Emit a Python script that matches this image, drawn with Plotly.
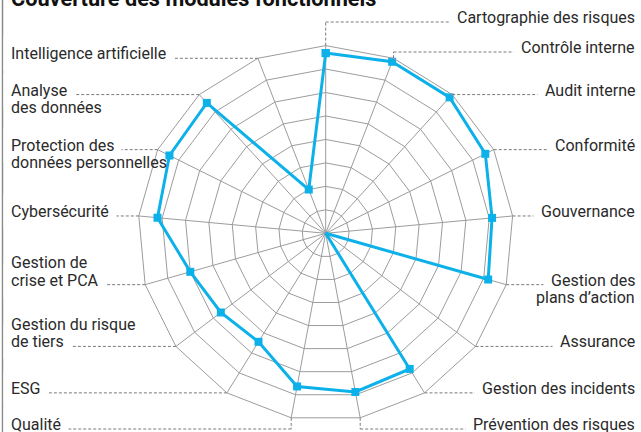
import math
import plotly.graph_objects as go

# ---------------- data ----------------
categories = [
    "Cartographie des risques", "Contrôle interne", "Audit interne", "Conformité",
    "Gouvernance", "Gestion des plans d’action", "Assurance", "Gestion des incidents",
    "Prévention des risques", "Qualité", "ESG", "Gestion du risque de tiers",
    "Gestion de crise et PCA", "Cybersécurité", "Protection des données personnelles",
    "Analyse des données", "Intelligence artificielle",
]
scores = [96, 98, 98, 95, 89, 90, 0, 85, 86, 83, 68, 70, 75, 90, 93, 94, 25]
label_lines = [
    ["Cartographie des risques"], ["Contrôle interne"], ["Audit interne"], ["Conformité"],
    ["Gouvernance"], ["Gestion des", "plans d’action"], ["Assurance"], ["Gestion des incidents"],
    ["Prévention des risques"], ["Qualité"], ["ESG"], ["Gestion du risque", "de tiers"],
    ["Gestion de", "crise et PCA"], ["Cybersécurité"], ["Protection des", "données personnelles"],
    ["Analyse", "des données"], ["Intelligence artificielle"],
]
title_text = "Couverture des modules fonctionnels"
r_max = 100
r_step = 12.5

# ---------------- layout parameters (pixels) ----------------
W, H = 641, 432
CX, CY, R = 325.7, 233.3, 187.7
anchor_line = [0, 0, 0, 0, 0, 0, 0, 0, 0, 0, 0, 1, 1, 0, 0, 0, 0]
leader_y = [22, 52, None, None, None, None, None, None, 429,
            429, None, None, None, None, None, None, None]
RIGHT_X, LEFT_X = 636, 10
FS = 16
LINE_H = 17.5
BASE_TO_MID = 5.5     # text middle sits this far above the baseline
BASE_BELOW_LEADER = 1
PAD = 7


def px(x):
    return x / W


def py(y):
    return 1 - y / H


n = len(categories)
theta_closed = categories + [categories[0]]
r_closed = scores + [scores[0]]

fig = go.Figure()
fig.add_trace(go.Scatterpolar(
    r=r_closed, theta=theta_closed, mode="lines+markers",
    line=dict(color="#0DB1EA", width=3),
    marker=dict(symbol="square", size=8, color="#0DB1EA"),
    hoverinfo="skip", showlegend=False,
))

grid = "#9c9c9c"
fig.update_layout(
    width=W, height=H,
    margin=dict(l=0, r=0, t=0, b=0),
    paper_bgcolor="white", plot_bgcolor="white",
    showlegend=False,
    polar=dict(
        domain=dict(x=[px(CX - R), px(CX + R)], y=[py(CY + R), py(CY - R)]),
        gridshape="linear",
        bgcolor="white",
        radialaxis=dict(range=[0, r_max], dtick=r_step, tick0=0, showticklabels=False,
                        ticks="", showline=False, gridcolor=grid, gridwidth=1),
        angularaxis=dict(rotation=90, direction="clockwise", showticklabels=False,
                         ticks="", showline=True, linecolor=grid, linewidth=1,
                         gridcolor=grid, gridwidth=1,
                         categoryorder="array", categoryarray=categories),
    ),
)

shapes = []
anchor_anns = []
other_anns = []
dash_style = dict(color="#7a7a7a", width=1, dash="3px,2px")
font = dict(family="Roboto", size=FS, color="#2a2a2a")
for i in range(n):
    ang = math.radians(i * 360.0 / n)
    vx = CX + R * math.sin(ang)
    vy = CY - R * math.cos(ang)
    right = vx >= CX
    ly = leader_y[i] if leader_y[i] is not None else vy
    end_x = RIGHT_X if right else LEFT_X
    if leader_y[i] is not None:
        shapes.append(dict(type="line", xref="paper", yref="paper",
                           x0=px(vx), y0=py(vy), x1=px(vx), y1=py(ly), line=dash_style))
    shapes.append(dict(type="line", xref="paper", yref="paper",
                       x0=px(vx), y0=py(ly), x1=px(end_x), y1=py(ly), line=dash_style))
    anchor_base = ly + BASE_BELOW_LEADER
    for k, txt in enumerate(label_lines[i]):
        base = anchor_base + (k - anchor_line[i]) * LINE_H
        is_anchor = (k == anchor_line[i])
        ann = dict(
            text=txt, xref="paper", yref="paper",
            x=px(end_x + PAD) if right else px(end_x - PAD),
            y=py(base - BASE_TO_MID),
            xanchor="right" if right else "left", yanchor="middle",
            align="right" if right else "left",
            showarrow=False, borderpad=PAD, font=font,
            bgcolor="white" if is_anchor else "rgba(0,0,0,0)",
        )
        (anchor_anns if is_anchor else other_anns).append(ann)

annotations = anchor_anns + other_anns
annotations.append(dict(
    text="<b>" + title_text + "</b>", xref="paper", yref="paper",
    x=px(9), y=py(-1.5), xanchor="left", yanchor="middle", showarrow=False,
    font=dict(family="Roboto", size=21.7, color="#111111"),
))
shapes.append(dict(type="line", xref="paper", yref="paper",
                   x0=px(2.5), x1=px(2.5), y0=0, y1=1,
                   line=dict(color="#8a8a8a", width=1.5)))

fig.update_layout(shapes=shapes, annotations=annotations)
fig.write_html("out.html", config={"displayModeBar": False},
               post_script="document.body.style.margin='0';")
